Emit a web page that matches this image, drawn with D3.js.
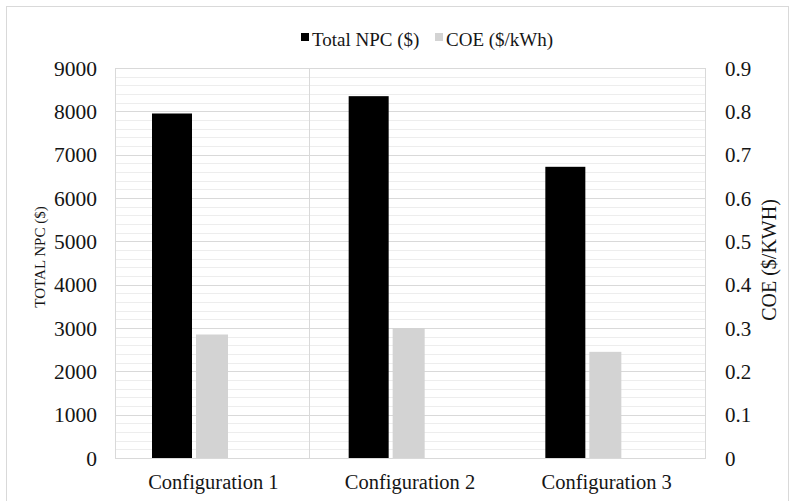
<!DOCTYPE html>
<html>
<head>
<meta charset="utf-8">
<script src="https://cdn.jsdelivr.net/npm/d3@7"></script>
<style>
  html, body { margin: 0; padding: 0; background: #fff; }
  svg { display: block; }
  svg text { font-family: "Liberation Serif", "Times New Roman", serif !important; fill: #151515; }
</style>
</head>
<body>
<svg id="chart" width="790" height="501"></svg>
<script>
// Configurations compared
const categories = ["Configuration 1", "Configuration 2", "Configuration 3"];
// Total net present cost ($)
const totalNPC = [7950, 8350, 6720];
// Cost of energy ($/kWh)
const coe = [0.285, 0.30, 0.245];
// Axis ticks
const npcTicks = [0, 1000, 2000, 3000, 4000, 5000, 6000, 7000, 8000, 9000];
const coeTicks = [0, 0.1, 0.2, 0.3, 0.4, 0.5, 0.6, 0.7, 0.8, 0.9];
const seriesNames = ["Total NPC ($)", "COE ($/kWh)"];

const svg = d3.select("#chart");
const W = 790, H = 501;
const plot = { left: 115, right: 705, top: 68, bottom: 458 };

const colNPC = "#000000";
const colCOE = "#d3d3d3";

// Outer chart frame
svg.append("rect")
  .attr("x", 6.5).attr("y", 6.5)
  .attr("width", W - 8).attr("height", H - 5)
  .attr("fill", "#fff").attr("stroke", "#d9d9d9");

const x = d3.scaleBand().domain(categories).range([plot.left, plot.right]);
const yL = d3.scaleLinear().domain([0, 9000]).range([plot.bottom, plot.top]);
const yR = d3.scaleLinear().domain([0, 0.9]).range([plot.bottom, plot.top]);

// Minor gridlines every 200
const minor = d3.range(200, 9000, 200).filter(v => v % 1000 !== 0);
svg.append("g").selectAll("line").data(minor).join("line")
  .attr("x1", plot.left).attr("x2", plot.right)
  .attr("y1", d => Math.round(yL(d)) + 0.5).attr("y2", d => Math.round(yL(d)) + 0.5)
  .attr("stroke", "#ededed").attr("stroke-width", 1);

// Major gridlines
svg.append("g").selectAll("line").data(npcTicks).join("line")
  .attr("x1", plot.left).attr("x2", plot.right)
  .attr("y1", d => Math.round(yL(d)) + 0.5).attr("y2", d => Math.round(yL(d)) + 0.5)
  .attr("stroke", "#d9d9d9").attr("stroke-width", 1.2);

// Plot frame and category divider
svg.append("rect")
  .attr("x", plot.left + 0.5).attr("y", plot.top + 0.5)
  .attr("width", plot.right - plot.left).attr("height", plot.bottom - plot.top)
  .attr("fill", "none").attr("stroke", "#d9d9d9");
svg.append("line")
  .attr("x1", Math.round(x(categories[1])) - 2.5).attr("x2", Math.round(x(categories[1])) - 2.5)
  .attr("y1", plot.top).attr("y2", plot.bottom)
  .attr("stroke", "#d9d9d9");

// Bars
const offNPC = 37, wNPC = 40, gap = 4, wCOE = 32;

svg.append("g").selectAll("rect").data(categories).join("rect")
  .attr("x", (d) => x(d) + offNPC)
  .attr("y", (d, i) => yL(totalNPC[i]))
  .attr("width", wNPC)
  .attr("height", (d, i) => yL(0) - yL(totalNPC[i]))
  .attr("fill", colNPC);

svg.append("g").selectAll("rect").data(categories).join("rect")
  .attr("x", (d) => x(d) + offNPC + wNPC + gap)
  .attr("y", (d, i) => yR(coe[i]))
  .attr("width", wCOE)
  .attr("height", (d, i) => yR(0) - yR(coe[i]))
  .attr("fill", colCOE);

// Left axis
const axL = d3.axisLeft(yL).tickValues(npcTicks).tickSize(0).tickPadding(0).tickFormat(d3.format("d"));
const gL = svg.append("g").attr("transform", "translate(97,0)").call(axL)
  .attr("font-family", null).attr("font-size", 21.5);
gL.select(".domain").remove();
gL.selectAll("text").attr("dy", "0.34em");

// Right axis
const axR = d3.axisRight(yR).tickValues(coeTicks).tickSize(0).tickPadding(0)
  .tickFormat(d => d === 0 ? "0" : d3.format(".1f")(d));
const gR = svg.append("g").attr("transform", "translate(725,0)").call(axR)
  .attr("font-family", null).attr("font-size", 21);
gR.select(".domain").remove();
gR.selectAll("text").attr("dy", "0.34em");

// Category axis labels
const axB = d3.axisBottom(x).tickSize(0).tickPadding(0);
const gB = svg.append("g").attr("transform", "translate(0,474)").call(axB)
  .attr("font-family", null).attr("font-size", 20.5);
gB.select(".domain").remove();
gB.selectAll("text").attr("dy", "0.71em");

// Axis titles
svg.append("text")
  .attr("transform", "translate(45,257) rotate(-90)")
  .attr("text-anchor", "middle")
  .attr("font-size", 15)
  .text("TOTAL NPC ($)");
svg.append("text")
  .attr("transform", "translate(776,260) rotate(-90)")
  .attr("text-anchor", "middle")
  .attr("font-size", 20)
  .text("COE ($/KWH)");

// Legend
const legend = svg.append("g");
const items = [
  { name: seriesNames[0], color: colNPC, x: 301 },
  { name: seriesNames[1], color: colCOE, x: 435 }
];
items.forEach(it => {
  legend.append("rect").attr("x", it.x).attr("y", 33).attr("width", 8).attr("height", 8).attr("fill", it.color);
  legend.append("text").attr("x", it.x + 11).attr("y", 46)
    .attr("font-size", 19).text(it.name);
});
</script>
</body>
</html>
